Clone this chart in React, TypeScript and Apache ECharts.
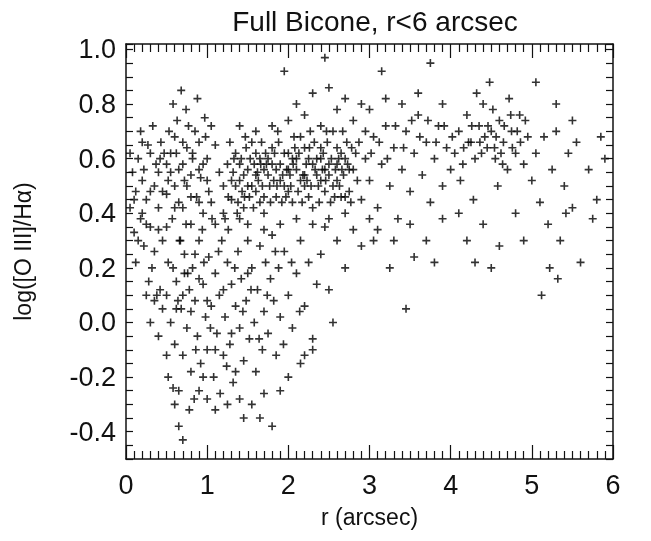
import React, { useEffect, useRef } from "react";
import * as echarts from "echarts";

// points, grouped by region: [r, log ratio]
const innerPoints: number[][] = [
  [0.05, 0.42], [0.08, 0.55], [0.1, 0.33], [0.12, 0.48], [0.15, 0.6], [0.18, 0.38], [0.2, 0.52], [0.22, 0.28],
  [0.25, 0.45], [0.27, 0.65], [0.3, 0.35], [0.32, 0.2], [0.35, 0.5], [0.37, 0.58], [0.4, 0.42], [0.42, 0.12],
  [0.45, 0.3], [0.47, 0.62], [0.5, 0.47], [0.52, 0.22], [0.55, 0.55], [0.57, 0.38], [0.6, 0.68], [0.62, 0.05],
  [0.65, 0.44], [0.67, 0.3], [0.7, 0.58], [0.72, 0.18], [0.75, 0.5], [0.77, 0.72], [0.8, 0.36], [0.82, 0.62],
  [0.85, 0.25], [0.87, 0.46], [0.9, 0.66], [0.92, 0.53], [0.95, 0.4], [0.97, 0.75], [1.0, 0.6], [1.02, 0.48],
  [0.15, 0.3], [0.25, 0.36], [0.35, 0.26], [0.45, 0.48], [0.55, 0.62], [0.65, 0.56], [0.75, 0.64], [0.85, 0.7],
  [0.95, 0.58], [0.3, 0.62], [0.4, 0.55], [0.5, 0.35], [0.6, 0.5], [0.7, 0.42], [0.8, 0.54], [0.9, 0.44],
  [0.2, 0.66], [0.58, 0.8], [0.68, 0.85], [0.74, 0.78], [0.88, 0.82], [0.12, 0.22], [0.28, 0.15], [0.38, 0.1],
  [0.05, 0.62], [0.18, 0.7], [0.33, 0.72], [0.43, 0.66], [0.53, 0.7], [0.63, 0.74], [0.98, 0.68], [1.05, 0.72],
  [0.1, 0.45], [0.2, 0.4], [0.3, 0.48], [0.4, 0.34], [0.5, 0.58], [0.6, 0.42], [0.7, 0.66], [0.8, 0.46],
  [0.9, 0.56], [1.0, 0.52], [0.22, 0.56], [0.42, 0.6], [0.62, 0.62], [0.82, 0.6], [0.72, 0.52], [0.52, 0.52],
];
const lowerPoints: number[][] = [
  [0.5, 0.1], [0.55, 0.0], [0.6, -0.08], [0.62, 0.15], [0.65, -0.25], [0.68, 0.05], [0.7, -0.12], [0.72, 0.25],
  [0.75, -0.02], [0.78, 0.12], [0.8, -0.18], [0.82, 0.2], [0.85, 0.08], [0.88, -0.05], [0.9, 0.3], [0.92, -0.15],
  [0.95, 0.14], [0.98, 0.02], [1.0, -0.1], [1.02, 0.24], [1.05, 0.06], [1.08, -0.2], [1.1, 0.18], [1.12, -0.04],
  [1.15, 0.1], [1.18, 0.3], [1.2, -0.12], [1.22, 0.02], [1.25, 0.22], [1.28, -0.08], [1.3, 0.14], [1.32, -0.22],
  [1.35, 0.06], [1.38, 0.26], [1.4, -0.02], [1.42, 0.16], [1.45, -0.14], [1.48, 0.08], [1.5, 0.3], [1.52, -0.06],
  [1.55, 0.2], [1.58, 0.0], [1.6, -0.18], [1.62, 0.12], [1.65, 0.28], [1.68, -0.1], [1.7, 0.04], [1.72, 0.22],
  [1.75, -0.04], [1.78, 0.16], [1.8, 0.32], [1.82, 0.08], [1.85, -0.12], [1.88, 0.2], [1.9, 0.02], [1.95, 0.26],
  [2.0, 0.1], [2.05, -0.02], [2.1, 0.18], [2.15, 0.3], [2.2, 0.06], [2.25, 0.22], [2.3, -0.06], [2.35, 0.14],
  [0.58, 0.2], [0.66, 0.3], [0.74, 0.36], [0.84, -0.28], [0.94, 0.34], [1.06, 0.38], [1.16, -0.26], [1.26, 0.34],
  [0.6, -0.3], [0.65, -0.38], [0.7, -0.43], [0.78, -0.32], [0.9, -0.25], [1.0, -0.28], [1.1, -0.32], [1.25, -0.3],
  [1.4, -0.28], [1.55, -0.3], [1.65, -0.35], [1.8, -0.38], [1.9, -0.25], [2.0, -0.2], [2.15, -0.15], [2.3, -0.1],
  [0.52, -0.2], [0.58, -0.24], [1.45, -0.35], [1.7, -0.26], [0.95, -0.2], [1.35, -0.18], [1.2, 0.4], [1.4, 0.38],
  [0.3, 0.0], [0.4, -0.05], [0.45, 0.05], [0.35, 0.08], [0.25, 0.1], [0.5, -0.12], [2.4, 0.25], [2.5, 0.12],
  [2.6, 0.3], [2.7, 0.2], [2.8, 0.34], [2.55, 0.0], [2.45, 0.35], [2.9, 0.28], [3.0, 0.38], [2.2, -0.12],
  [0.64, 0.08], [0.76, 0.18], [0.86, -0.1], [0.96, 0.22], [1.04, -0.02], [1.14, 0.26], [1.24, -0.16], [1.34, 0.2],
  [1.44, 0.04], [1.54, 0.12], [1.64, -0.06], [1.74, 0.1], [1.84, 0.26], [1.94, -0.08], [2.04, 0.22], [2.14, 0.04],
  [0.7, 0.1], [0.8, 0.04], [0.9, 0.16], [1.0, 0.08], [1.1, -0.1], [1.2, 0.12], [1.3, -0.04], [1.5, 0.18],
];
const corePoints: number[][] = [
  [1.2, 0.5], [1.25, 0.58], [1.3, 0.45], [1.35, 0.62], [1.4, 0.52], [1.45, 0.42], [1.5, 0.56], [1.55, 0.66],
  [1.6, 0.48], [1.65, 0.6], [1.7, 0.4], [1.75, 0.54], [1.8, 0.64], [1.85, 0.46], [1.9, 0.58], [1.95, 0.5],
  [2.0, 0.62], [2.05, 0.44], [2.1, 0.56], [2.15, 0.68], [2.2, 0.5], [2.25, 0.6], [2.3, 0.42], [2.35, 0.54],
  [2.4, 0.64], [2.45, 0.48], [2.5, 0.58], [2.55, 0.7], [2.6, 0.52], [2.65, 0.62], [2.7, 0.46], [2.75, 0.56],
  [1.22, 0.38], [1.32, 0.55], [1.42, 0.6], [1.52, 0.46], [1.62, 0.55], [1.72, 0.62], [1.82, 0.52], [1.92, 0.44],
  [2.02, 0.54], [2.12, 0.48], [2.22, 0.58], [2.32, 0.66], [2.42, 0.56], [2.52, 0.44], [2.62, 0.6], [2.72, 0.66],
  [1.28, 0.66], [1.38, 0.44], [1.48, 0.64], [1.58, 0.58], [1.68, 0.5], [1.78, 0.44], [1.88, 0.66], [1.98, 0.56],
  [2.08, 0.64], [2.18, 0.54], [2.28, 0.5], [2.38, 0.44], [2.48, 0.66], [2.58, 0.56], [2.68, 0.54], [2.78, 0.64],
  [1.35, 0.5], [1.45, 0.54], [1.55, 0.5], [1.65, 0.44], [1.75, 0.6], [1.85, 0.56], [1.95, 0.62], [2.05, 0.6],
  [2.15, 0.52], [2.25, 0.46], [2.35, 0.6], [2.45, 0.56], [2.55, 0.5], [2.65, 0.46], [2.75, 0.48], [2.85, 0.52],
  [1.5, 0.36], [1.7, 0.34], [1.9, 0.36], [2.1, 0.38], [2.3, 0.36], [2.5, 0.38], [2.7, 0.4], [1.6, 0.7],
  [1.8, 0.72], [2.0, 0.74], [2.2, 0.76], [2.4, 0.72], [2.6, 0.78], [2.8, 0.74], [1.4, 0.72], [2.1, 0.8],
  [2.3, 0.84], [2.5, 0.86], [2.7, 0.82], [2.9, 0.8], [1.95, 0.92], [2.45, 0.97], [1.1, 0.65], [1.15, 0.55],
  [1.05, 0.44], [1.1, 0.36], [1.6, 0.62], [1.7, 0.56], [2.0, 0.48], [2.2, 0.64], [2.4, 0.52], [2.6, 0.64],
];
const coreExtra: number[][] = [
  [1.3, 0.52], [1.4, 0.58], [1.5, 0.5], [1.6, 0.54], [1.7, 0.46], [1.8, 0.58], [1.9, 0.52], [2.0, 0.56],
  [2.1, 0.6], [2.2, 0.54], [2.3, 0.58], [2.4, 0.6], [2.5, 0.54], [2.6, 0.58], [2.7, 0.6], [2.8, 0.56],
  [1.33, 0.6], [1.43, 0.48], [1.53, 0.6], [1.63, 0.52], [1.73, 0.58], [1.83, 0.62], [1.93, 0.54], [2.03, 0.5],
  [2.13, 0.62], [2.23, 0.52], [2.33, 0.56], [2.43, 0.62], [2.53, 0.6], [2.63, 0.5], [2.73, 0.58], [2.83, 0.62],
  [1.37, 0.4], [1.57, 0.42], [1.77, 0.5], [1.97, 0.46], [2.17, 0.44], [2.37, 0.5], [2.57, 0.46], [2.77, 0.44],
  [1.47, 0.68], [1.67, 0.66], [1.87, 0.7], [2.07, 0.68], [2.27, 0.7], [2.47, 0.7], [2.67, 0.7], [2.87, 0.66],
  [1.26, 0.46], [1.46, 0.46], [1.66, 0.58], [1.86, 0.5], [2.06, 0.58], [2.26, 0.64], [2.46, 0.52], [2.66, 0.56],
];
const outerPoints: number[][] = [
  [2.9, 0.45], [2.95, 0.6], [3.0, 0.52], [3.05, 0.68], [3.1, 0.42], [3.15, 0.58], [3.2, 0.72], [3.25, 0.5],
  [3.3, 0.64], [3.35, 0.38], [3.4, 0.56], [3.45, 0.7], [3.5, 0.48], [3.55, 0.62], [3.6, 0.76], [3.65, 0.54],
  [3.7, 0.66], [3.75, 0.44], [3.8, 0.6], [3.85, 0.72], [3.9, 0.5], [3.95, 0.64], [4.0, 0.56], [3.0, 0.78],
  [3.2, 0.82], [3.4, 0.8], [3.6, 0.84], [3.1, 0.34], [3.3, 0.3], [3.5, 0.36], [3.7, 0.3], [3.9, 0.38],
  [3.25, 0.2], [3.55, 0.24], [3.8, 0.22], [3.45, 0.05], [3.15, 0.92], [3.75, 0.95], [3.9, 0.8], [3.05, 0.3],
  [4.05, 0.62], [4.1, 0.7], [4.15, 0.58], [4.2, 0.76], [4.25, 0.66], [4.3, 0.6], [4.35, 0.72], [4.4, 0.8],
  [4.45, 0.64], [4.5, 0.7], [4.55, 0.6], [4.6, 0.74], [4.65, 0.66], [4.7, 0.56], [4.75, 0.7], [4.8, 0.62],
  [4.85, 0.76], [4.9, 0.58], [4.95, 0.68], [5.0, 0.52], [4.12, 0.52], [4.22, 0.66], [4.32, 0.84], [4.42, 0.68],
  [4.52, 0.78], [4.62, 0.62], [4.72, 0.82], [4.82, 0.7], [4.92, 0.74], [4.48, 0.88], [4.28, 0.45], [4.58, 0.5],
  [4.1, 0.4], [4.2, 0.3], [4.4, 0.36], [4.6, 0.28], [4.8, 0.4], [4.5, 0.2], [4.3, 0.22], [4.9, 0.3],
  [5.05, 0.62], [5.1, 0.44], [5.15, 0.68], [5.2, 0.36], [5.25, 0.56], [5.3, 0.7], [5.35, 0.3], [5.4, 0.5],
  [5.45, 0.62], [5.5, 0.42], [5.55, 0.66], [5.6, 0.22], [5.12, 0.1], [5.22, 0.2], [5.32, 0.16], [5.42, 0.4],
  [5.7, 0.56], [5.8, 0.45], [5.85, 0.68], [5.9, 0.6], [5.75, 0.38], [5.05, 0.88], [5.3, 0.8], [5.5, 0.74],
  [2.95, 0.7], [3.02, 0.62], [3.12, 0.66], [3.22, 0.6], [3.32, 0.72], [3.42, 0.64], [3.52, 0.74], [3.62, 0.68],
  [3.72, 0.74], [3.82, 0.66], [3.92, 0.72], [4.02, 0.68], [4.38, 0.62], [4.46, 0.72], [4.56, 0.68], [4.66, 0.72],
  [4.76, 0.64], [4.86, 0.66], [4.36, 0.66], [4.26, 0.72], [4.16, 0.64], [4.64, 0.58], [4.74, 0.76], [4.54, 0.64],
];

const rTicks = [0, 1, 2, 3, 4, 5, 6];
const yTicks = [-0.4, -0.2, 0.0, 0.2, 0.4, 0.6, 0.8, 1.0];

const FONT = "Liberation Sans";
const plus = "path://M0,5L10,5M5,0L5,10";

const App: React.FC = () => {
  const chartRef = useRef<HTMLDivElement>(null);

  useEffect(() => {
    const chart = echarts.init(chartRef.current, null, { renderer: "svg" });
    const all = [...innerPoints, ...lowerPoints, ...corePoints, ...coreExtra, ...outerPoints];
    const frame = { show: true, onZero: false, lineStyle: { color: "#111", width: 1.5 } };
    const tickStyle = { color: "#111", width: 1.2 };
    const xBase = {
      type: "value" as const, min: 0, max: 6, interval: 1,
      axisLine: frame,
      axisTick: { inside: true, length: 14, lineStyle: tickStyle },
      minorTick: { show: true, splitNumber: 10, length: 8, lineStyle: tickStyle },
      splitLine: { show: false },
    };
    const yBase = {
      type: "value" as const, min: -0.5, max: 1.02, interval: 0.1,
      axisLine: frame,
      axisTick: { inside: true, length: 7, lineStyle: tickStyle },
      minorTick: { show: true, splitNumber: 2, length: 7, lineStyle: tickStyle },
      splitLine: { show: false },
    };
    chart.setOption({
      animation: false,
      title: {
        text: "Full Bicone, r<6 arcsec", left: 370, top: 2, textAlign: "center",
        textStyle: { fontFamily: FONT, fontSize: 28, fontWeight: "normal", color: "#111" },
      },
      grid: { left: 126, right: 38, top: 44, bottom: 82 },
      xAxis: [
        {
          ...xBase, position: "bottom",
          name: "r (arcsec)", nameLocation: "middle", nameGap: 46,
          nameTextStyle: { fontFamily: FONT, fontSize: 23, color: "#111" },
          axisLabel: {
            fontFamily: FONT, fontSize: 27, color: "#111", margin: 12,
            formatter: (v: number) => (rTicks.includes(v) ? String(v) : ""),
          },
        },
        { ...xBase, position: "top", axisLabel: { show: false } },
      ],
      yAxis: [
        {
          ...yBase, position: "left",
          name: "log([O III]/Hα)", nameLocation: "middle", nameGap: 92,
          nameTextStyle: { fontFamily: FONT, fontSize: 23, color: "#111" },
          axisLabel: {
            fontFamily: FONT, fontSize: 27, color: "#111", margin: 10,
            formatter: (v: number) => {
              const t = yTicks.find((k) => Math.abs(k - v) < 1e-6);
              return t === undefined ? "" : t.toFixed(1);
            },
          },
        },
        { ...yBase, position: "right", axisLabel: { show: false } },
      ],
      series: [
        {
          type: "scatter", data: all, symbol: plus, symbolSize: 8,
          itemStyle: { color: "none", borderColor: "#000", borderWidth: 1.6 },
        },
      ],
    });
    return () => chart.dispose();
  }, []);

  return (
    <div ref={chartRef} style={{ position: "fixed", left: 0, top: 0, width: 651, height: 541 }} />
  );
};

export default App;
